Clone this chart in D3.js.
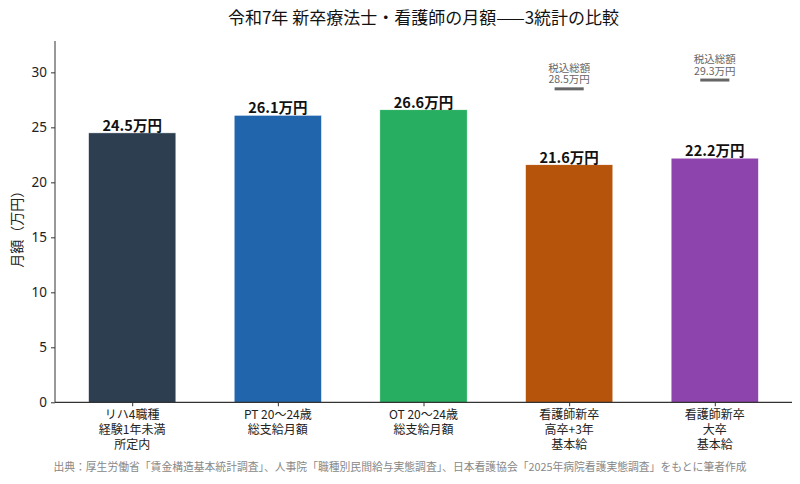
<!DOCTYPE html>
<html>
<head>
<meta charset="utf-8">
<script src="https://cdn.jsdelivr.net/npm/d3@7"></script>
<style>
  body { margin: 0; background: #fff; }
  text { font-family: "Noto Sans CJK JP", "Noto Sans", sans-serif; }
  .ml { font-family: "Noto Sans CJK JP", "Noto Sans", sans-serif; text-align: center; white-space: nowrap; }
</style>
</head>
<body>
<div id="chart"></div>
<script>
const W = 800, H = 484;

// data
const categories = [
    ["リハ4職種", "経験1年未満", "所定内"],
    ["PT 20〜24歳", "総支給月額"],
    ["OT 20〜24歳", "総支給月額"],
    ["看護師新卒", "高卒+3年", "基本給"],
    ["看護師新卒", "大卒", "基本給"]
];
const values = [24.5, 26.1, 26.6, 21.6, 22.2];
const colors = ["#2c3e50", "#2166ac", "#27ae60", "#b5540a", "#8e44ad"];
// tax-included totals (only for the two nurse bars)
const grossIndex = [3, 4];
const grossValues = [28.5, 29.3];
const yTicks = [0, 5, 10, 15, 20, 25, 30];

const margin = { left: 55, right: 8, top: 41, bottom: 82 };

const svg = d3.select("#chart").append("svg")
    .attr("width", W)
    .attr("height", H);

const x = d3.scaleLinear()
    .domain([-0.53, values.length - 1 + 0.53])
    .range([margin.left, W - margin.right]);

const y = d3.scaleLinear()
    .domain([0, 32.85])
    .range([402.3, margin.top]);

const barW = 0.6;

// multi-line centred label as one wrapped block
function multiLabel(g, cx, top, lines, size, lh, color) {
    const fo = g.append("foreignObject")
        .attr("x", cx - 60)
        .attr("y", top)
        .attr("width", 120)
        .attr("height", lh * lines.length + 4);
    fo.append("xhtml:div")
        .attr("class", "ml")
        .style("font-size", size + "px")
        .style("line-height", lh + "px")
        .style("color", color)
        .html(lines.join("<br>"));
}

// bars
svg.append("g").selectAll("rect")
    .data(values)
    .enter()
    .append("rect")
    .attr("x", (d, i) => x(i - barW / 2))
    .attr("width", x(barW) - x(0))
    .attr("y", d => y(d))
    .attr("height", d => y(0) - y(d))
    .attr("fill", (d, i) => colors[i])
    .attr("stroke", "#fff")
    .attr("stroke-width", 0.6);

// value labels
svg.append("g").selectAll("text")
    .data(values)
    .enter()
    .append("text")
    .attr("x", (d, i) => x(i))
    .attr("y", d => y(d) - 2)
    .attr("text-anchor", "middle")
    .attr("font-size", "14.5px")
    .attr("font-weight", "bold")
    .attr("fill", "#111")
    .text(d => d.toFixed(1) + "万円");

// gross (tax-included) markers
const gross = svg.append("g");
grossIndex.forEach((idx, k) => {
    const v = grossValues[k];
    gross.append("line")
        .attr("x1", x(idx - 0.1))
        .attr("x2", x(idx + 0.1))
        .attr("y1", y(v))
        .attr("y2", y(v))
        .attr("stroke", "#666")
        .attr("stroke-width", 3);
    multiLabel(gross, x(idx), y(v) - 27, ["税込総額", v.toFixed(1) + "万円"], 10.5, 11.6, "#666");
});

// y axis
const yAxis = svg.append("g")
    .attr("transform", `translate(${margin.left},0)`)
    .call(d3.axisLeft(y).tickValues(yTicks).tickSize(4).tickPadding(4));
yAxis.select(".domain").attr("d", `M-0,${y.range()[1]}V${y(0)}`).attr("stroke", "#333");
yAxis.selectAll(".tick line").attr("stroke", "#333");
yAxis.selectAll(".tick text")
    .attr("font-size", "13.5px")
    .attr("fill", "#222")
    .style("font-family", "'Noto Sans', sans-serif");

// x axis
const xAxis = svg.append("g")
    .attr("transform", `translate(0,${y(0)})`)
    .call(d3.axisBottom(x).tickValues(d3.range(values.length)).tickSize(4).tickFormat(""));
xAxis.select(".domain").attr("d", `M${x.range()[0]},0H${x.range()[1]}`).attr("stroke", "#333").attr("stroke-width", 1.2);
xAxis.selectAll(".tick line").attr("stroke", "#333");

const xLabels = svg.append("g");
categories.forEach((lines, i) => {
    multiLabel(xLabels, x(i), 406, lines, 12, 15, "#222");
});

// y label
svg.append("text")
    .attr("transform", `translate(22,${(y(0) + y.range()[1]) / 2 + 4}) rotate(-90)`)
    .attr("text-anchor", "middle")
    .attr("font-size", "14px")
    .attr("fill", "#222")
    .text("月額（万円）");

// title
svg.append("text")
    .attr("x", (x.range()[0] + x.range()[1]) / 2)
    .attr("y", 24)
    .attr("text-anchor", "middle")
    .attr("font-size", "17px")
    .attr("fill", "#111")
    .text("令和7年 新卒療法士・看護師の月額——3統計の比較");

// source note
svg.append("text")
    .attr("x", W / 2)
    .attr("y", 471)
    .attr("text-anchor", "middle")
    .attr("font-size", "10.8px")
    .attr("fill", "#888")
    .text("出典：厚生労働省「賃金構造基本統計調査」、人事院「職種別民間給与実態調査」、日本看護協会「2025年病院看護実態調査」をもとに筆者作成");
</script>
</body>
</html>
